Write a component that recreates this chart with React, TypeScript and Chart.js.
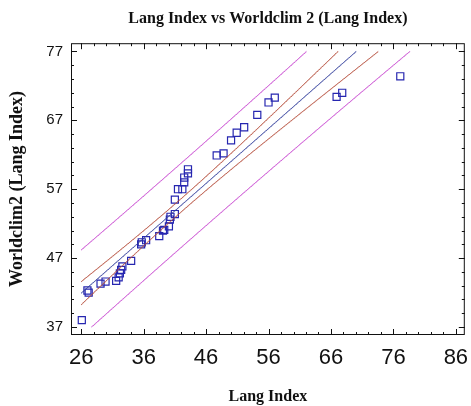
import React, { useEffect, useRef } from "react";
import { Chart, registerables } from "chart.js";

Chart.register(...registerables);

// Observed data (Lang Index vs Worldclim 2 Lang Index)
const LANG_INDEX = [
  26.1, 27.0, 27.2, 29.1, 29.9, 31.6, 32.0, 32.2, 32.4, 32.6,
  34.0, 35.6, 35.7, 36.4, 38.5, 39.1, 39.3, 40.05, 40.2, 40.3,
  41.0, 41.0, 41.5, 42.2, 42.5, 42.5, 43.1, 43.1, 47.7, 48.8,
  50.0, 50.9, 52.1, 54.2, 56.0, 57.0, 66.9, 67.8, 77.1,
];
const WORLDCLIM2 = [
  38.0, 42.3, 42.0, 43.3, 43.6, 43.7, 44.2, 44.8, 45.3, 45.8,
  46.6, 49.0, 49.3, 49.6, 50.2, 51.0, 51.1, 51.6, 52.6, 53.0,
  53.4, 55.5, 57.0, 57.0, 58.0, 58.7, 59.3, 59.9, 61.9, 62.2,
  64.1, 65.2, 66.0, 67.8, 69.6, 70.3, 70.4, 71.0, 73.4,
];

const X_TICKS = [26, 36, 46, 56, 66, 76, 86];
const Y_TICKS = [37, 47, 57, 67, 77];
const MINOR_STEP = 2;
const X_RANGE = [24.37, 87.43];
const Y_RANGE = [35.84, 78.2];
const T_95 = 2.026; // t(0.975, n-2)

const TITLE = "Lang Index vs Worldclim 2 (Lang Index)";
const X_TITLE = "Lang Index";
const Y_TITLE = "Worldclim2 (Lang Index)";

function regression(xs: number[], ys: number[]) {
  const n = xs.length;
  const mx = xs.reduce((a, b) => a + b, 0) / n;
  const my = ys.reduce((a, b) => a + b, 0) / n;
  let sxx = 0, sxy = 0;
  for (let i = 0; i < n; i++) {
    sxx += (xs[i] - mx) ** 2;
    sxy += (xs[i] - mx) * (ys[i] - my);
  }
  const b = sxy / sxx;
  const a = my - b * mx;
  let sse = 0;
  for (let i = 0; i < n; i++) sse += (ys[i] - (a + b * xs[i])) ** 2;
  const s = Math.sqrt(sse / (n - 2));
  return { n, mx, sxx, a, b, s };
}

function curve(fn: (x: number) => number) {
  const x0 = X_TICKS[0], x1 = X_TICKS[X_TICKS.length - 1];
  const lo = Y_TICKS[0], hi = Y_TICKS[Y_TICKS.length - 1];
  const pts: { x: number; y: number }[] = [];
  const steps = 600;
  let prev: { x: number; y: number } | null = null;
  for (let i = 0; i <= steps; i++) {
    const x = x0 + ((x1 - x0) * i) / steps;
    const y = fn(x);
    const inside = y >= lo && y <= hi;
    if (prev) {
      const pin = prev.y >= lo && prev.y <= hi;
      if (pin !== inside) {
        const bound = (inside ? prev.y : y) < lo ? lo : hi;
        const t = (bound - prev.y) / (y - prev.y);
        pts.push({ x: prev.x + t * (x - prev.x), y: bound });
      }
    }
    if (inside) pts.push({ x, y });
    prev = { x, y };
  }
  return pts;
}

const framePlugin = {
  id: "frame",
  afterDraw(chart: any) {
    const { ctx, chartArea } = chart;
    const { left, right, top, bottom } = chartArea;
    const xs = chart.scales.x, ys = chart.scales.y;
    ctx.save();
    ctx.strokeStyle = "#111";
    ctx.lineWidth = 1;
    ctx.strokeRect(left + 0.5, top + 0.5, right - left - 1, bottom - top - 1);
    ctx.beginPath();
    for (let v = X_TICKS[0]; v <= X_TICKS[X_TICKS.length - 1] + 1e-9; v += MINOR_STEP) {
      const major = X_TICKS.includes(Math.round(v));
      const len = major ? 6 : 3;
      const px = Math.round(xs.getPixelForValue(v)) + 0.5;
      ctx.moveTo(px, bottom);
      ctx.lineTo(px, bottom - len);
      ctx.moveTo(px, top);
      ctx.lineTo(px, top + len);
    }
    for (let v = Y_TICKS[0]; v <= Y_TICKS[Y_TICKS.length - 1] + 1e-9; v += MINOR_STEP) {
      const major = Y_TICKS.includes(Math.round(v));
      const len = major ? 6 : 3;
      const py = Math.round(ys.getPixelForValue(v)) + 0.5;
      ctx.moveTo(left, py);
      ctx.lineTo(left + len, py);
      ctx.moveTo(right, py);
      ctx.lineTo(right - len, py);
    }
    ctx.stroke();
    ctx.restore();
  },
};

export default function App() {
  const ref = useRef<HTMLCanvasElement | null>(null);

  useEffect(() => {
    document.body.style.margin = "0";
    const canvas = ref.current;
    if (!canvas) return;
    const r = regression(LANG_INDEX, WORLDCLIM2);
    const fit = (x: number) => r.a + r.b * x;
    const ci = (x: number) => T_95 * r.s * Math.sqrt(1 / r.n + (x - r.mx) ** 2 / r.sxx);
    const pi = (x: number) => T_95 * r.s * Math.sqrt(1 + 1 / r.n + (x - r.mx) ** 2 / r.sxx);

    const lineDs = (data: any[], color: string) => ({
      type: "scatter" as const,
      data,
      showLine: true,
      borderColor: color,
      borderWidth: 1,
      pointRadius: 0,
      fill: false,
    });

    const points = LANG_INDEX.map((x, i) => ({ x, y: WORLDCLIM2[i] }));

    const chart = new Chart(canvas, {
      type: "scatter",
      data: {
        datasets: [
          lineDs(curve((x) => fit(x) + pi(x)), "#c84ad0"),
          lineDs(curve((x) => fit(x) - pi(x)), "#c84ad0"),
          lineDs(curve((x) => fit(x) + ci(x)), "#b54e3c"),
          lineDs(curve((x) => fit(x) - ci(x)), "#b54e3c"),
          lineDs(curve(fit), "#34409c"),
          {
            type: "scatter",
            data: points,
            pointStyle: "rect",
            pointRadius: 5,
            pointBorderWidth: 1.2,
            pointBorderColor: "#2626b0",
            pointBackgroundColor: "rgba(0,0,0,0)",
          } as any,
        ],
      },
      options: {
        responsive: false,
        animation: false,
        layout: { padding: { left: 0, right: 2, top: 0, bottom: 0 } },
        plugins: {
          legend: { display: false },
          tooltip: { enabled: false },
          title: {
            display: true,
            text: TITLE,
            fullSize: false,
            color: "#111",
            font: { family: "Liberation Serif", size: 16, weight: "bold" },
            padding: { top: 9, bottom: 15 },
          },
        },
        scales: {
          x: {
            type: "linear",
            min: X_RANGE[0],
            max: X_RANGE[1],
            afterBuildTicks: (s: any) => {
              s.ticks = X_TICKS.map((value) => ({ value }));
            },
            afterFit: (s: any) => {
              s.height = 71;
              s.paddingLeft = 0;
              s.paddingRight = 0;
            },
            grid: { display: false, drawTicks: false },
            border: { display: false },
            ticks: {
              autoSkip: false,
              maxRotation: 0,
              padding: 10,
              color: "#111",
              font: { family: "Liberation Sans", size: 22 },
            },
            title: {
              display: true,
              text: X_TITLE,
              color: "#111",
              font: { family: "Liberation Serif", size: 16, weight: "bold" },
              padding: { top: 0, bottom: 0 },
            },
          },
          y: {
            type: "linear",
            min: Y_RANGE[0],
            max: Y_RANGE[1],
            afterBuildTicks: (s: any) => {
              s.ticks = Y_TICKS.map((value) => ({ value }));
            },
            afterFit: (s: any) => {
              s.width = 71;
              s.paddingTop = 0;
              s.paddingBottom = 0;
            },
            grid: { display: false, drawTicks: false },
            border: { display: false },
            ticks: {
              autoSkip: false,
              padding: 8,
              color: "#111",
              font: { family: "Liberation Sans", size: 15 },
            },
            title: {
              display: true,
              text: Y_TITLE,
              color: "#111",
              font: { family: "Liberation Serif", size: 18, weight: "bold" },
              padding: { top: 7, bottom: 0 },
            },
          },
        },
      } as any,
      plugins: [framePlugin],
    });
    return () => chart.destroy();
  }, []);

  return (
    <div style={{ width: 471, height: 406, background: "#fff" }}>
      <canvas ref={ref} width={471} height={406} />
    </div>
  );
}
